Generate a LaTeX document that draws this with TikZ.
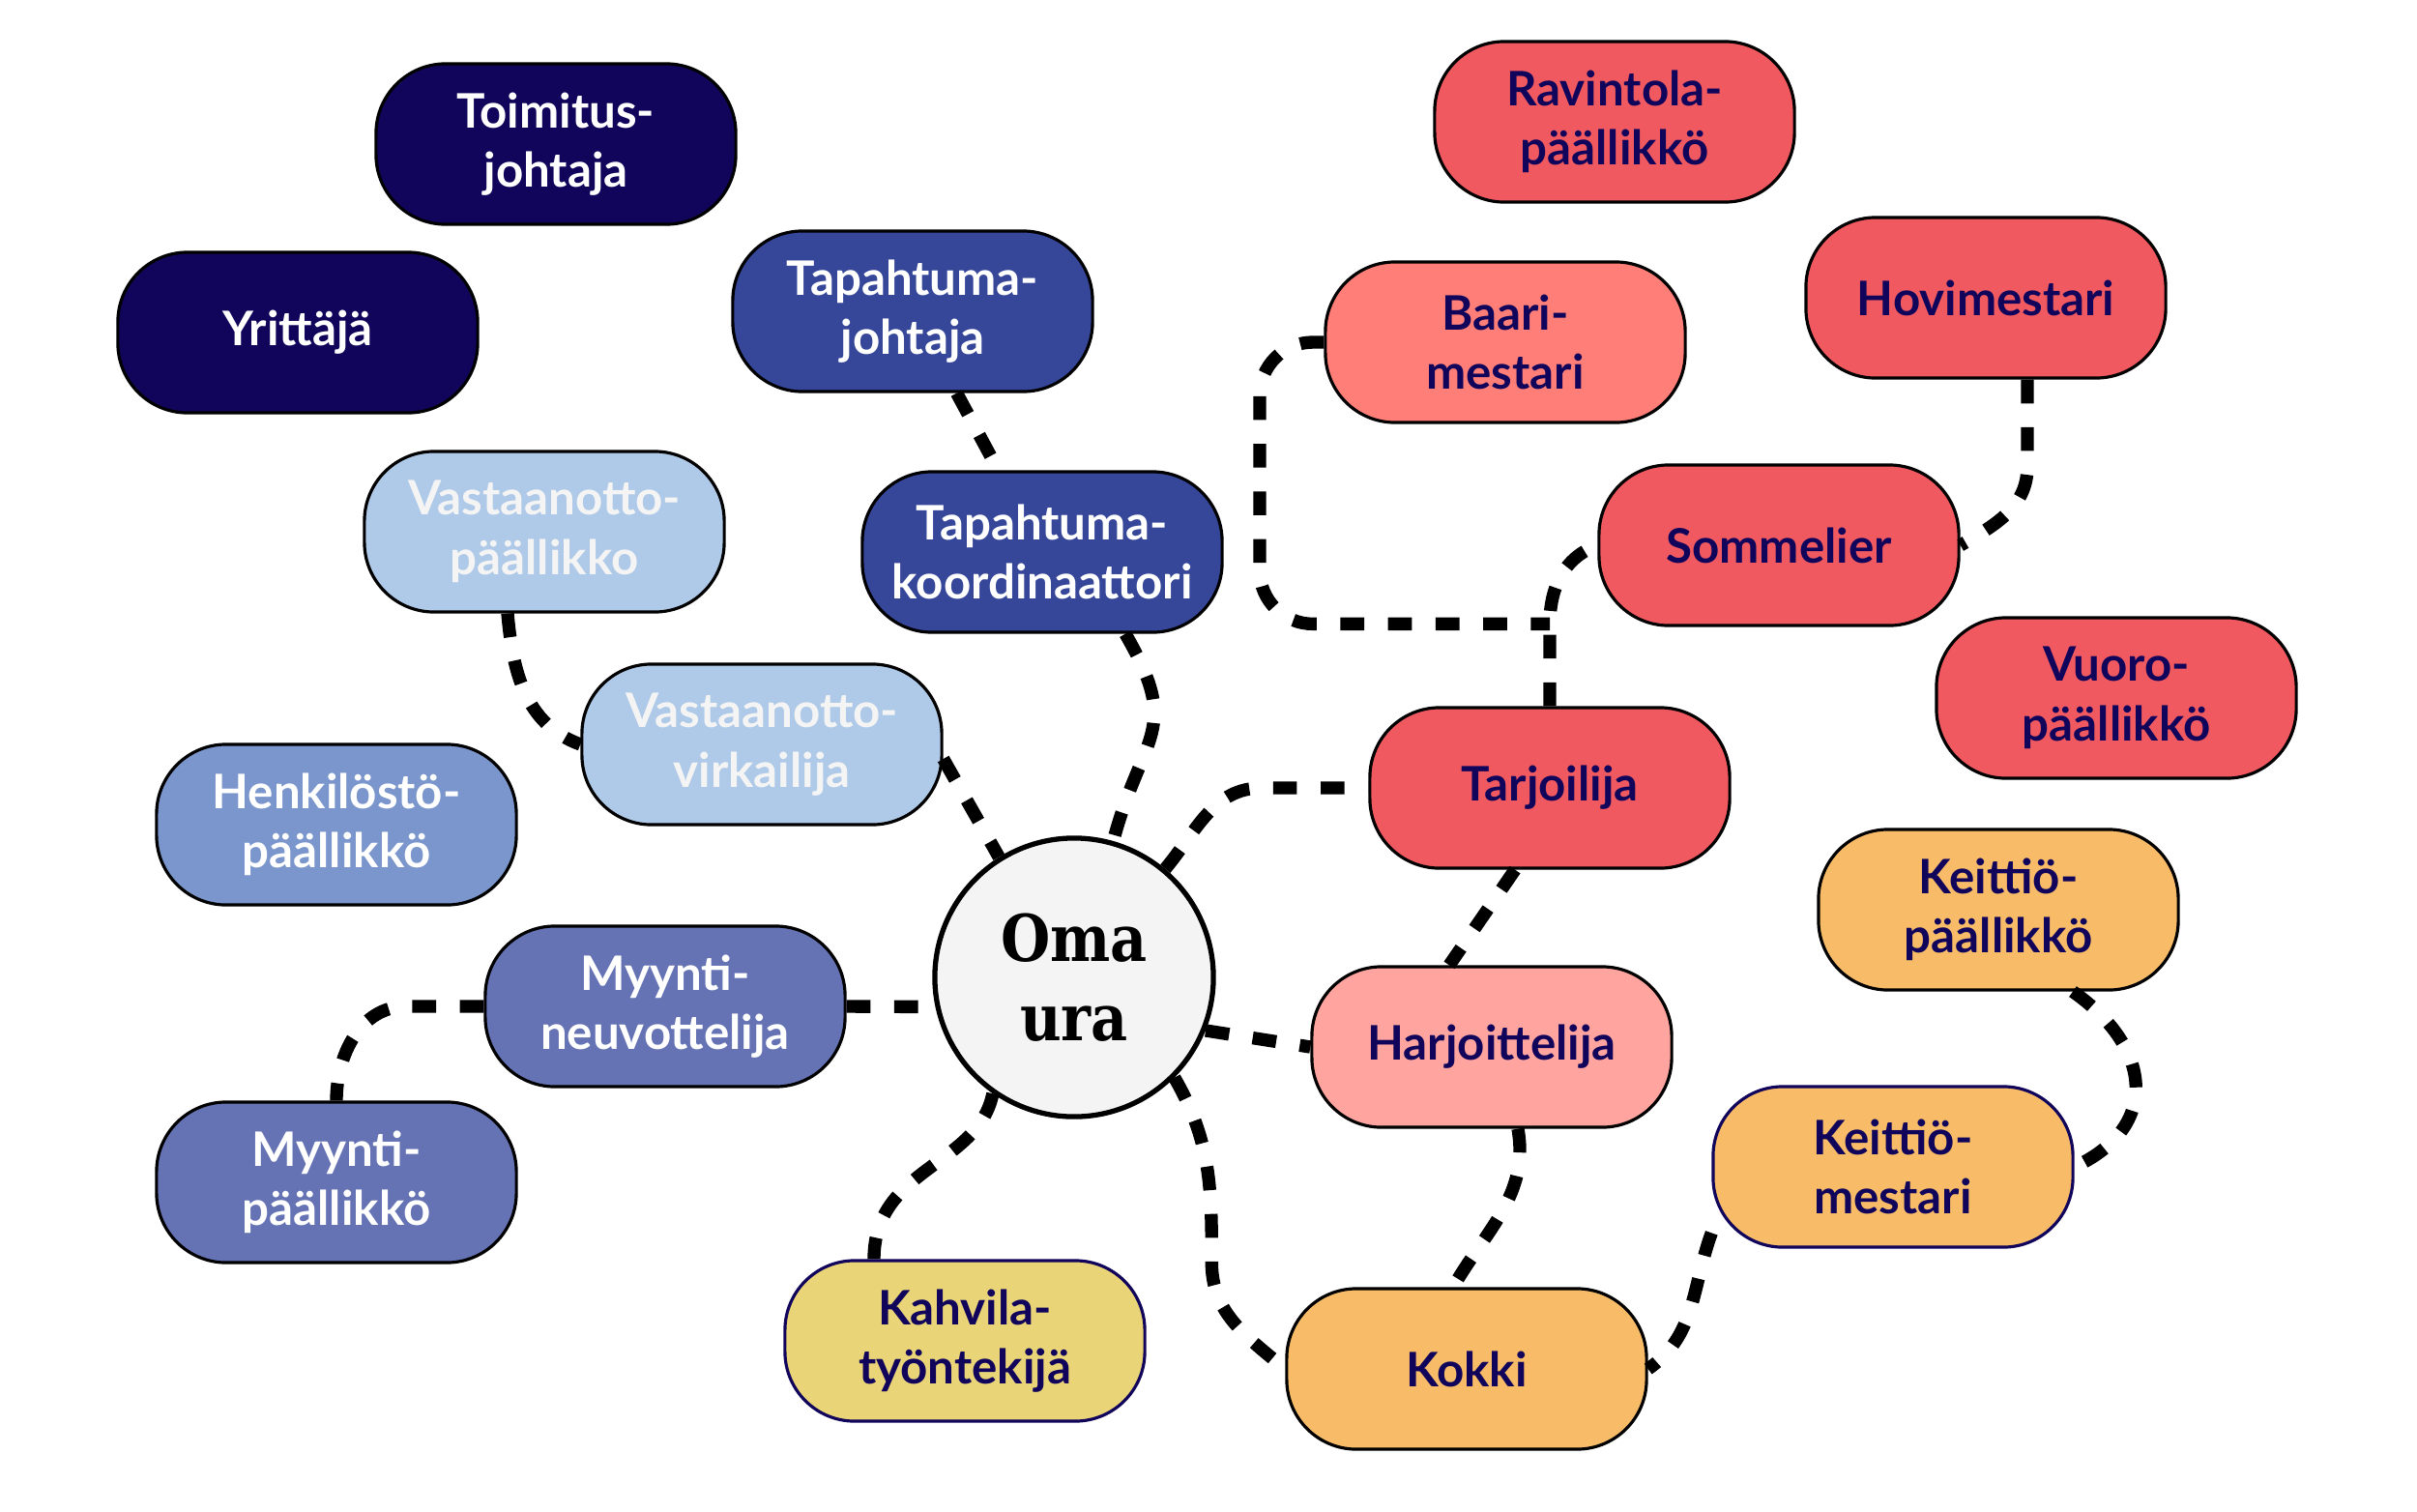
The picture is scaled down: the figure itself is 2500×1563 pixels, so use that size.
\documentclass[tikz,border=0pt]{standalone}
\usepackage{fontspec}
\setmainfont{Lato}
\newfontfamily\omafont{DejaVu Serif}[FakeStretch=0.88]
\usetikzlibrary{positioning, calc}

\definecolor{inknavy}{HTML}{10055A}
\definecolor{eventblue}{HTML}{36479A}
\definecolor{frontblue}{HTML}{AFC9E8}
\definecolor{hrblue}{HTML}{7A96CC}
\definecolor{salesblue}{HTML}{6573B4}
\definecolor{dinered}{HTML}{F0595F}
\definecolor{barsalmon}{HTML}{FF7E78}
\definecolor{traineepink}{HTML}{FFA49E}
\definecolor{kitchenorange}{HTML}{F8BB67}
\definecolor{cafeyellow}{HTML}{EAD478}
\definecolor{hubgray}{HTML}{F4F4F4}

\begin{document}
\begin{tikzpicture}[x=0.01cm, y=-0.01cm,
    rolebox/.style={rectangle, draw=black, line width=0.9pt, rounded corners=0.72cm,
                    minimum width=3.72cm, minimum height=1.66cm, align=center,
                    font=\fontsize{14}{17.5}\selectfont\bfseries, text=inknavy},
    lighttext/.style={rolebox, text=white},
    hubcircle/.style={circle, draw=black, line width=1.5pt, fill=hubgray,
                      minimum size=2.88cm, align=center,
                      font=\omafont\fontsize{19}{23.5}\selectfont\bfseries},
    link/.style={line width=3.8pt, dash pattern=on 7pt off 7pt}]

    \useasboundingbox (0,0) rectangle (2500,1563);

    % Centre
    \node[hubcircle] (oma) at (1111,1011) {Oma\\ura};

    % Management and events - left side
    \node[lighttext, fill=inknavy] (toim) at (575,149) {Toimitus-\\johtaja};
    \node[lighttext, fill=inknavy] (yrit) at (308,344) {Yrittäjä};
    \node[lighttext, fill=eventblue] (tapjoh) at (944,322) {Tapahtuma-\\johtaja};
    \node[lighttext, fill=eventblue] (tapkoord) at (1078,571) {Tapahtuma-\\koordinaattori};
    \node[lighttext, fill=frontblue, text=hubgray] (vastp) at (563,550) {Vastaanotto-\\päällikko};
    \node[lighttext, fill=frontblue, text=hubgray] (vastv) at (788,770) {Vastaanotto-\\virkailija};
    \node[lighttext, fill=hrblue] (henk) at (348,853) {Henkilöstö-\\päällikkö};
    \node[lighttext, fill=salesblue] (myyntin) at (688,1041) {Myynti-\\neuvottelija};
    \node[lighttext, fill=salesblue] (myyntip) at (348,1223) {Myynti-\\päällikkö};

    % Restaurant and kitchen - right side
    \node[rolebox, fill=dinered] (ravint) at (1670,126) {Ravintola-\\päällikkö};
    \node[rolebox, fill=barsalmon] (baari) at (1557,354) {Baari-\\mestari};
    \node[rolebox, fill=dinered] (hovi) at (2054,308) {Hovimestari};
    \node[rolebox, fill=dinered] (somm) at (1840,564) {Sommelier};
    \node[rolebox, fill=dinered] (vuoro) at (2189,722) {Vuoro-\\päällikkö};
    \node[rolebox, fill=dinered] (tarj) at (1603,815) {Tarjoilija};
    \node[rolebox, fill=traineepink] (harj) at (1543,1083) {Harjoittelija};
    \node[rolebox, fill=kitchenorange] (keitp) at (2067,941) {Keittiö-\\päällikkö};
    \node[rolebox, fill=kitchenorange, draw=inknavy] (keitm) at (1958,1207) {Keittiö-\\mestari};
    \node[rolebox, fill=kitchenorange] (kokki) at (1517,1416) {Kokki};
    \node[rolebox, fill=cafeyellow, draw=inknavy] (kahvila) at (998,1387) {Kahvila-\\työntekijä};

    \coordinate (jn) at ($(tarj.north)+(0,-85)$);
    \coordinate (kk) at ($(kokki.west)+(-76,-110)$);

    % Links from the centre
    \draw[link] ($(tapkoord.south)+(86,0)$) to[out=-60,in=75,looseness=1.4] (oma.74);
    \draw[link] ($(vastv.east)+(0,15)$) -- (oma.122);
    \draw[link] (myyntin.east) -- (oma.192);
    \draw[link] (oma.235) .. controls +(-15,75) and +(0,-95) .. ($(kahvila.north)+(-94,0)$);
    \draw[link] (oma.-45) to[out=-60,in=90] (kk) to[out=-90,in=140] (kokki.west);
    \draw[link] (oma.-22) -- (harj.west);
    \draw[link] (oma.50) to[out=50,in=180] ($(tarj.west)+(-110,0)$) -- (tarj.west);

    % Links between roles
    \draw[link] (tapjoh) -- (tapkoord);
    \draw[link] ($(vastp.south)+(-38,0)$) to[out=-85,in=160] (vastv.west);
    \draw[link] (myyntin.west) -- ++(-80,0) to[out=180,in=90] (myyntip.north);
    \draw[link] ($(tarj.south)+(-36,0)$) -- ($(harj.north)+(-44,0)$);
    \draw[link] (tarj.north) -- (jn) to[out=90,in=200] (somm.west);
    \draw[link, rounded corners=0.55cm] (baari.west) -| ($(jn)+(-300,0)$) -- (jn);
    \draw[link] ($(hovi.south)+(43,0)$) -- ++(0,90) to[out=-90,in=30] (somm.east);
    \draw[link] ($(keitp.south)+(77,0)$) to[out=-35,in=25,looseness=1.4] (keitm.east);
    \draw[link] (keitm.200) to[out=-110,in=35] (kokki.east);
    \draw[link] ($(harj.south)+(27,0)$) to[out=-80,in=60] ($(kokki.north)+(-14,0)$);

\end{tikzpicture}
\end{document}
